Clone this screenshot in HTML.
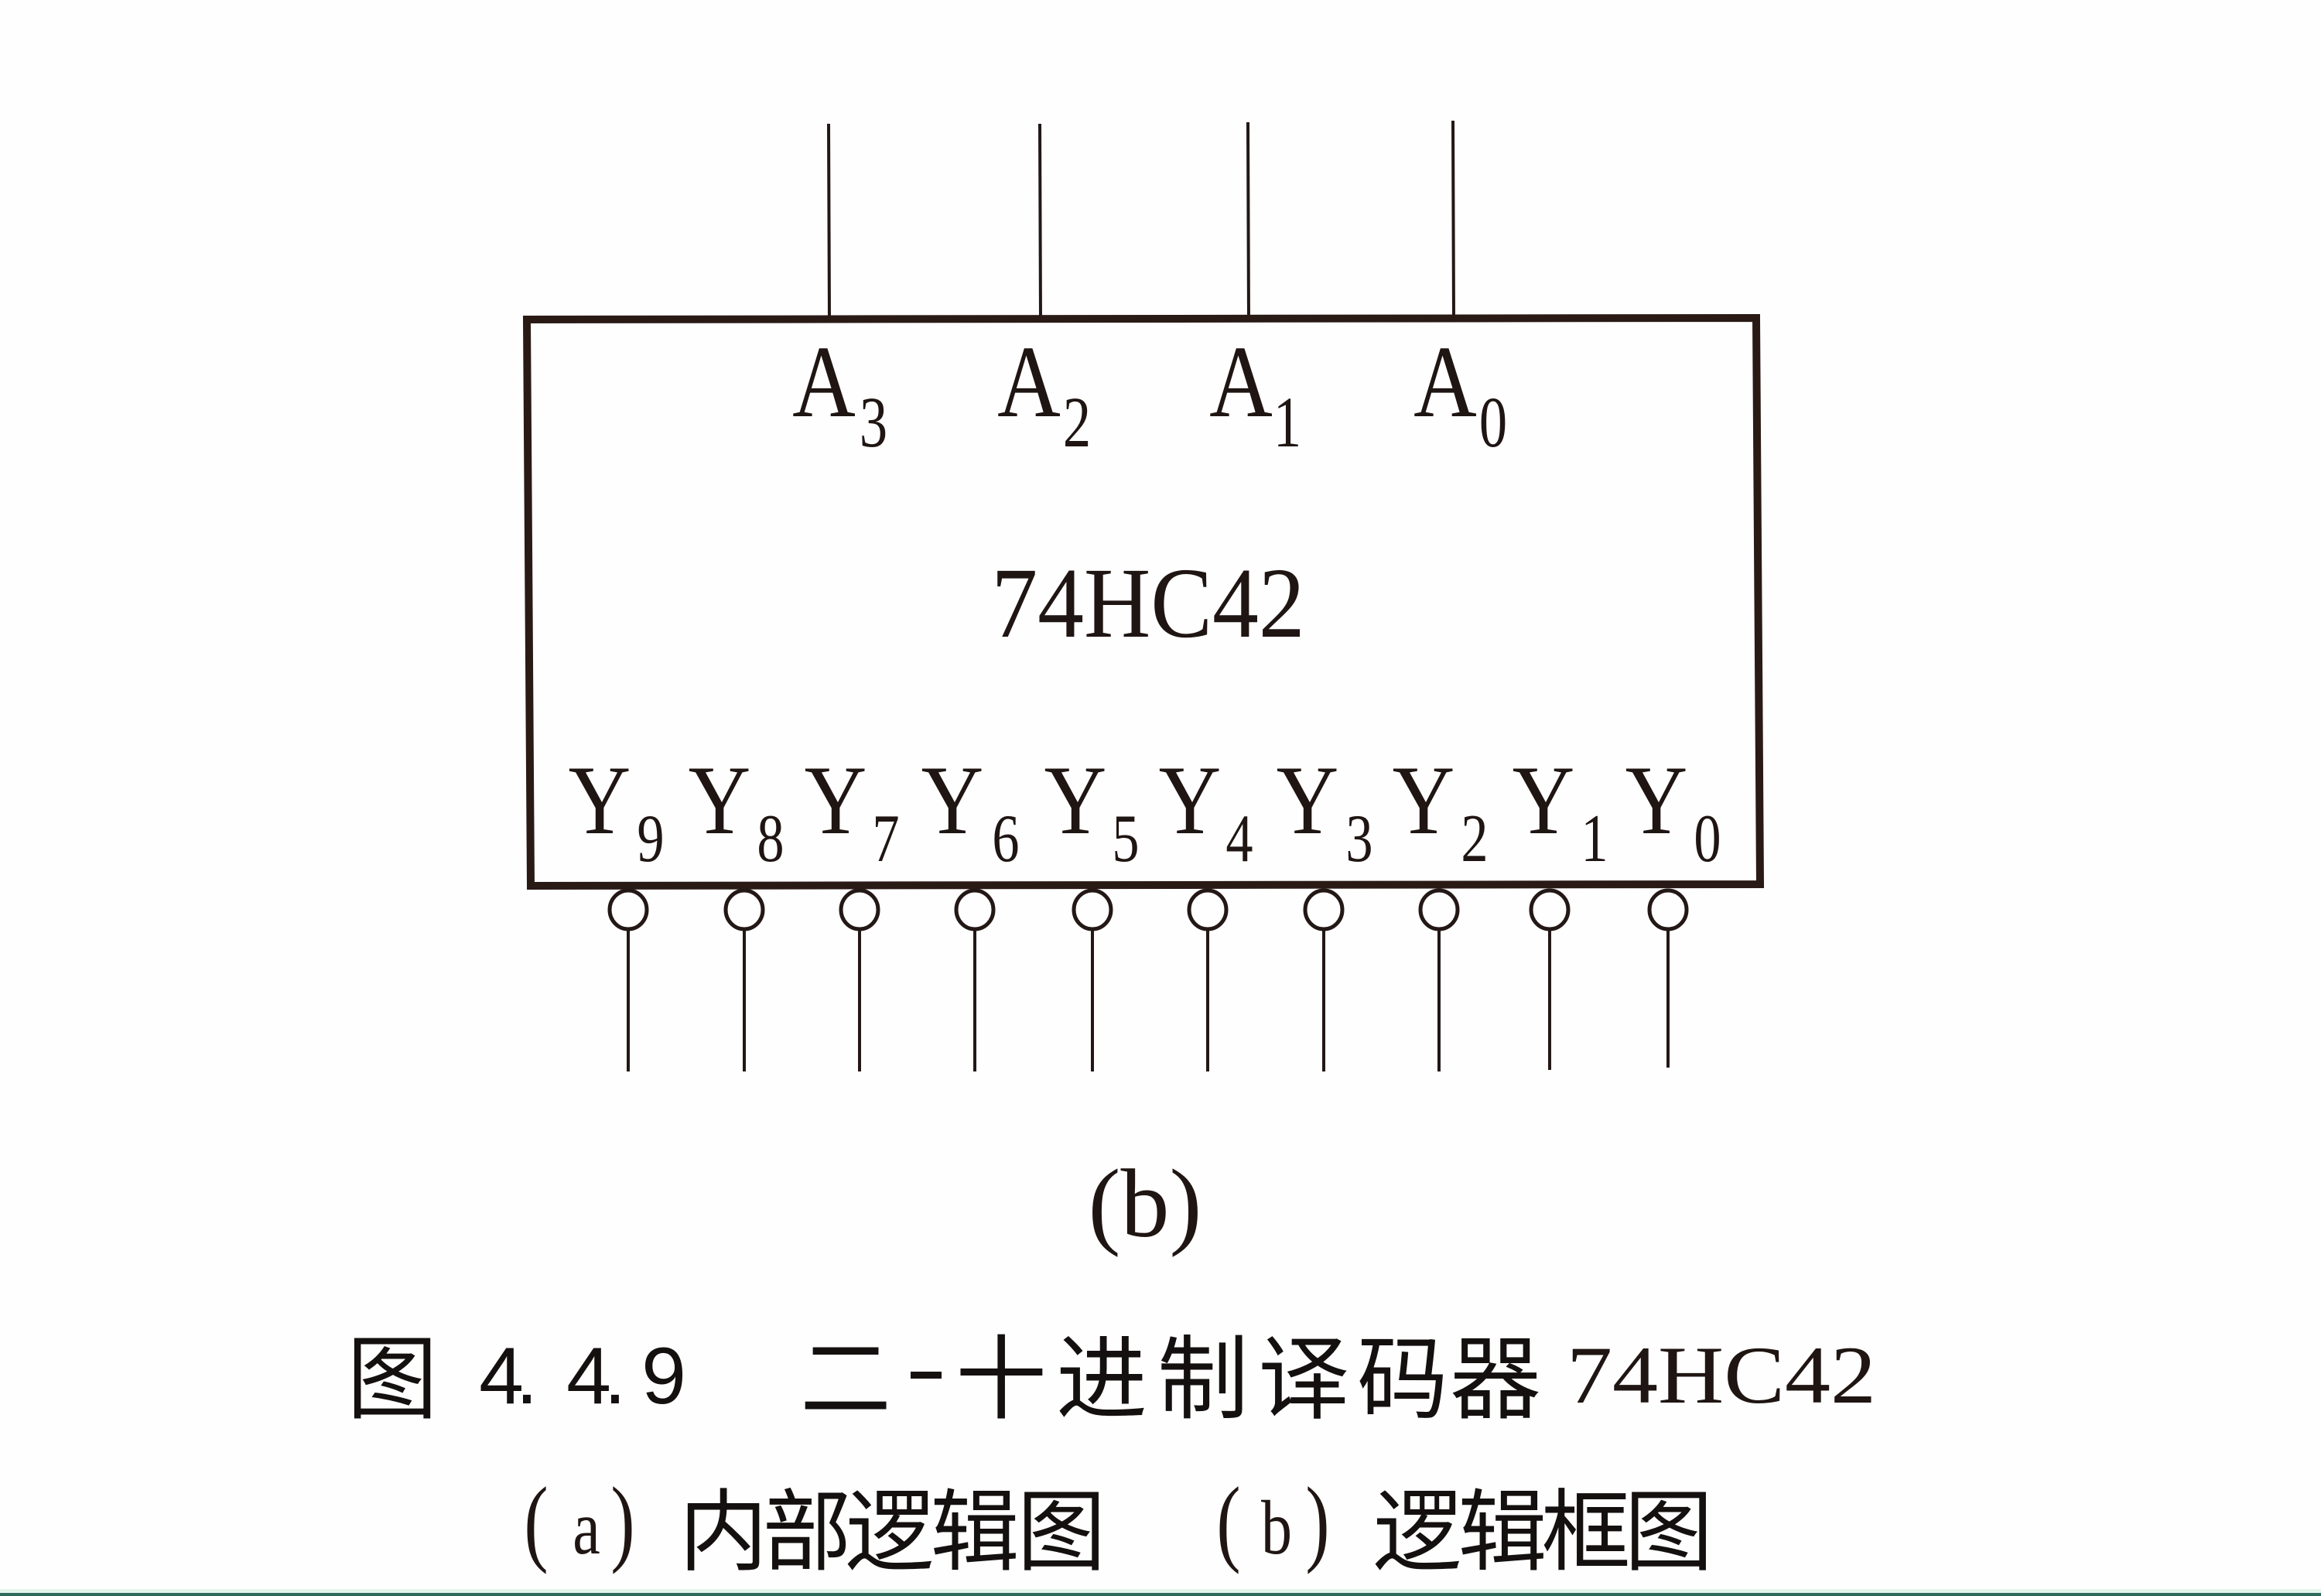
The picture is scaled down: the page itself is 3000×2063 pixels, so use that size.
<!DOCTYPE html>
<html>
<head>
<meta charset="utf-8">
<style>
html,body{margin:0;padding:0;background:#fefefe;}
body{width:3000px;height:2063px;overflow:hidden;position:relative;}
svg{position:absolute;left:0;top:0;}
.s{font-family:"Liberation Serif","Noto Serif CJK SC",serif;fill:#1f1512;}
.c{font-family:"Liberation Sans","Noto Sans CJK SC",sans-serif;fill:#151010;}
</style>
</head>
<body>
<svg width="3000" height="2063" viewBox="0 0 3000 2063" xmlns="http://www.w3.org/2000/svg">
  <rect x="0" y="0" width="3000" height="2063" fill="#fefefe"/>
  <!-- bottom teal edge -->
  <rect x="0" y="2054" width="3000" height="5" fill="#e6f4ee"/>
  <rect x="0" y="2059" width="3000" height="4" fill="#2f6b5c"/>

  <!-- input lines -->
  <g stroke="#231816" stroke-width="4" fill="none">
    <line x1="1071" y1="160" x2="1072" y2="413"/>
    <line x1="1344" y1="160" x2="1345" y2="413"/>
    <line x1="1613" y1="158" x2="1614" y2="413"/>
    <line x1="1878" y1="156" x2="1879" y2="412"/>
  </g>

  <!-- box -->
  <polygon points="681,413 2270,411 2275,1143 686,1145" fill="none" stroke="#2a1a16" stroke-width="10" stroke-linejoin="miter"/>

  <!-- output lines -->
  <g stroke="#231816" stroke-width="4" fill="none">
    <line x1="812" y1="1198" x2="812" y2="1385"/>
    <line x1="962" y1="1198" x2="962" y2="1385"/>
    <line x1="1111" y1="1198" x2="1111" y2="1385"/>
    <line x1="1260" y1="1198" x2="1260" y2="1385"/>
    <line x1="1412" y1="1198" x2="1412" y2="1385"/>
    <line x1="1561" y1="1198" x2="1561" y2="1385"/>
    <line x1="1711" y1="1198" x2="1711" y2="1385"/>
    <line x1="1860" y1="1198" x2="1860" y2="1385"/>
    <line x1="2003" y1="1198" x2="2003" y2="1383"/>
    <line x1="2156" y1="1198" x2="2156" y2="1380"/>
  </g>
  <!-- bubbles -->
  <g stroke="#231816" stroke-width="5" fill="#fefefe">
    <ellipse cx="812" cy="1176" rx="24" ry="25"/>
    <ellipse cx="962" cy="1176" rx="24" ry="25"/>
    <ellipse cx="1111" cy="1176" rx="24" ry="25"/>
    <ellipse cx="1260" cy="1176" rx="24" ry="25"/>
    <ellipse cx="1412" cy="1176" rx="24" ry="25"/>
    <ellipse cx="1561" cy="1176" rx="24" ry="25"/>
    <ellipse cx="1711" cy="1176" rx="24" ry="25"/>
    <ellipse cx="1860" cy="1176" rx="24" ry="25"/>
    <ellipse cx="2003" cy="1176" rx="24" ry="25"/>
    <ellipse cx="2156" cy="1176" rx="24" ry="25"/>
  </g>

  <!-- A labels -->
  <g class="s" text-anchor="middle">
    <text font-size="133" transform="translate(1065,538) scale(0.85,1)">A</text>
    <text font-size="93" transform="translate(1129,577) scale(0.78,1)">3</text>
    <text font-size="133" transform="translate(1330,538) scale(0.85,1)">A</text>
    <text font-size="93" transform="translate(1392,577) scale(0.78,1)">2</text>
    <text font-size="133" transform="translate(1604,538) scale(0.85,1)">A</text>
    <text font-size="93" transform="translate(1664,577) scale(0.78,1)">1</text>
    <text font-size="133" transform="translate(1868,538) scale(0.85,1)">A</text>
    <text font-size="93" transform="translate(1930,577) scale(0.78,1)">0</text>
  </g>

  <!-- chip name -->
  <text class="s" font-size="130" text-anchor="middle" transform="translate(1484,823) scale(0.92,1)">74HC42</text>

  <!-- Y labels -->
  <g class="s" text-anchor="middle">
    <text font-size="127" transform="translate(775,1077) scale(0.88,1)">Y</text>
    <text font-size="88" transform="translate(841,1113) scale(0.8,1)">9</text>
    <text font-size="127" transform="translate(930,1077) scale(0.88,1)">Y</text>
    <text font-size="88" transform="translate(996,1113) scale(0.8,1)">8</text>
    <text font-size="127" transform="translate(1080,1077) scale(0.88,1)">Y</text>
    <text font-size="88" transform="translate(1145,1113) scale(0.8,1)">7</text>
    <text font-size="127" transform="translate(1231,1077) scale(0.88,1)">Y</text>
    <text font-size="88" transform="translate(1300,1113) scale(0.8,1)">6</text>
    <text font-size="127" transform="translate(1390,1077) scale(0.88,1)">Y</text>
    <text font-size="88" transform="translate(1455,1113) scale(0.8,1)">5</text>
    <text font-size="127" transform="translate(1538,1077) scale(0.88,1)">Y</text>
    <text font-size="88" transform="translate(1602,1113) scale(0.8,1)">4</text>
    <text font-size="127" transform="translate(1690,1077) scale(0.88,1)">Y</text>
    <text font-size="88" transform="translate(1757,1113) scale(0.8,1)">3</text>
    <text font-size="127" transform="translate(1840,1077) scale(0.88,1)">Y</text>
    <text font-size="88" transform="translate(1906,1113) scale(0.8,1)">2</text>
    <text font-size="127" transform="translate(1995,1077) scale(0.88,1)">Y</text>
    <text font-size="88" transform="translate(2061,1113) scale(0.8,1)">1</text>
    <text font-size="127" transform="translate(2141,1077) scale(0.88,1)">Y</text>
    <text font-size="88" transform="translate(2207,1113) scale(0.8,1)">0</text>
  </g>

  <!-- (b) -->
  <text class="s" font-size="126" text-anchor="middle" transform="translate(1480,1598)">(b)</text>

  <!-- caption line 1 -->
  <g class="c" text-anchor="middle" font-size="118">
    <text x="507" y="1824">图</text>
    <text x="1093" y="1824">二</text>
    <text x="1294" y="1824">十</text>
    <text x="1424" y="1824">进</text>
    <text x="1555" y="1824">制</text>
    <text x="1685" y="1824">译</text>
    <text x="1813" y="1824">码</text>
    <text x="1933" y="1824">器</text>
  </g>
  <rect x="1177" y="1773" width="40" height="9" fill="#151010"/>
  <g class="c" text-anchor="middle" font-size="104">
    <text x="648" y="1814">4</text>
    <text x="681" y="1814">.</text>
    <text x="761" y="1814">4</text>
    <text x="795" y="1814">.</text>
    <text x="858" y="1814">9</text>
  </g>
  <text class="s" font-size="106" x="2025" y="1813" textLength="400" lengthAdjust="spacingAndGlyphs">74HC42</text>

  <!-- caption line 2 -->
  <g class="c" text-anchor="middle" font-size="115">
    <text x="935" y="2020">内</text>
    <text x="1043" y="2020">部</text>
    <text x="1150" y="2020">逻</text>
    <text x="1260" y="2020">辑</text>
    <text x="1372" y="2020">图</text>
    <text x="1832" y="2020">逻</text>
    <text x="1942" y="2020">辑</text>
    <text x="2050" y="2020">框</text>
    <text x="2157" y="2020">图</text>
  </g>
  <g class="s" text-anchor="middle">
    <text font-size="125" transform="translate(693,2008) scale(0.75,1)">(</text>
    <text font-size="100" transform="translate(758,2008) scale(0.8,1)">a</text>
    <text font-size="125" transform="translate(805,2008) scale(0.75,1)">)</text>
    <text font-size="125" transform="translate(1588,2008) scale(0.75,1)">(</text>
    <text font-size="100" transform="translate(1650,2008) scale(0.8,1)">b</text>
    <text font-size="125" transform="translate(1703,2008) scale(0.75,1)">)</text>
  </g>
</svg>
</body>
</html>
